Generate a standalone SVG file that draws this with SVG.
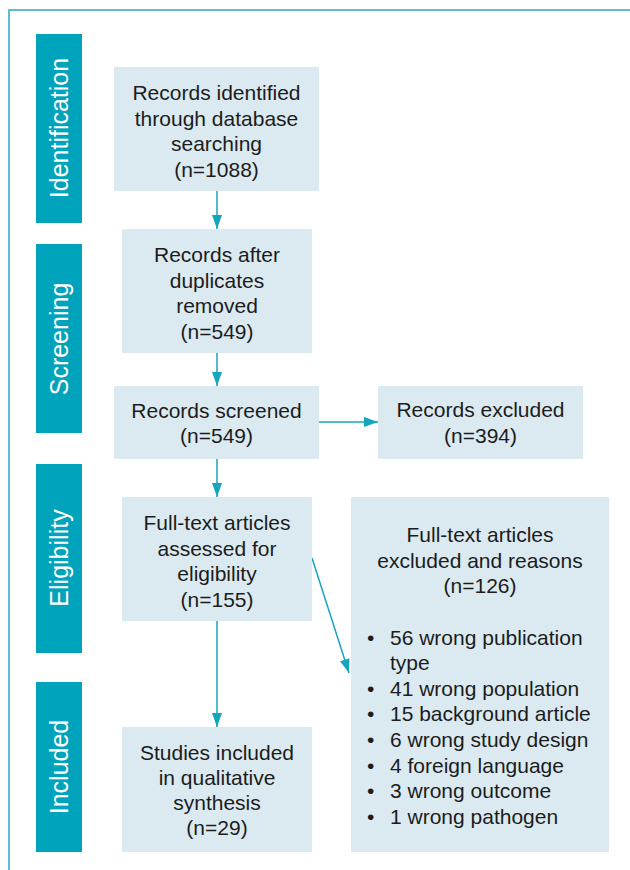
<svg xmlns="http://www.w3.org/2000/svg" width="630" height="870" viewBox="0 0 630 870">
<defs>
<style>
.frame{fill:none;stroke:#2aa8bf;stroke-width:1.5}
.phase{fill:#00a3bc}
.ptxt{fill:#ffffff;font-family:"Liberation Sans",Arial,sans-serif;font-size:25px;text-anchor:middle}
.box{fill:#dbeaf1}
.t{fill:#1c1c1c;font-family:"Liberation Sans",Arial,sans-serif;font-size:21px;text-anchor:middle}
.tl{fill:#1c1c1c;font-family:"Liberation Sans",Arial,sans-serif;font-size:21px}
.con{stroke:#14a6bd;stroke-width:1.5;fill:none}
</style>
<marker id="ah" viewBox="0 0 14 10" refX="14" refY="5" markerWidth="14" markerHeight="10" markerUnits="userSpaceOnUse" orient="auto">
<path d="M0,0 L14,5 L0,10 Z" fill="#14a6bd"/>
</marker>
</defs>
<rect width="630" height="870" fill="#ffffff"/>
<path class="frame" d="M9,870 V10 H630"/>

<g id="phase-identification"><rect class="phase" x="36" y="34" width="46" height="189"/><text class="ptxt" transform="translate(68,128) rotate(-90)">Identification</text></g>
<g id="phase-screening"><rect class="phase" x="36" y="244" width="46" height="189"/><text class="ptxt" transform="translate(68,339) rotate(-90)">Screening</text></g>
<g id="phase-eligibility"><rect class="phase" x="36" y="464" width="46" height="189"/><text class="ptxt" transform="translate(68,558) rotate(-90)">Eligibility</text></g>
<g id="phase-included"><rect class="phase" x="36" y="682" width="46" height="170"/><text class="ptxt" transform="translate(68,767) rotate(-90)">Included</text></g>

<g id="connectors">
<line class="con" x1="217" y1="191" x2="217" y2="229" marker-end="url(#ah)"/>
<line class="con" x1="217" y1="353" x2="217" y2="386" marker-end="url(#ah)"/>
<line class="con" x1="217" y1="459" x2="217" y2="497" marker-end="url(#ah)"/>
<line class="con" x1="217" y1="621" x2="217" y2="727" marker-end="url(#ah)"/>
<line class="con" x1="319" y1="422" x2="378" y2="422" marker-end="url(#ah)"/>
<line class="con" x1="312" y1="558" x2="349" y2="673" marker-end="url(#ah)"/>
</g>

<g id="n-identified"><rect class="box" x="114" y="67" width="205" height="124"/>
<text class="t" x="216.5" y="100">Records identified</text>
<text class="t" x="216.5" y="125.5">through database</text>
<text class="t" x="216.5" y="151">searching</text>
<text class="t" x="216.5" y="177">(n=1088)</text></g>

<g id="n-duplicates"><rect class="box" x="122" y="229" width="190" height="124"/>
<text class="t" x="217" y="262">Records after</text>
<text class="t" x="217" y="287.5">duplicates</text>
<text class="t" x="217" y="313">removed</text>
<text class="t" x="217" y="338.5">(n=549)</text></g>

<g id="n-screened"><rect class="box" x="114" y="386" width="205" height="73"/>
<text class="t" x="216.5" y="418">Records screened</text>
<text class="t" x="216.5" y="443">(n=549)</text></g>

<g id="n-excluded"><rect class="box" x="378" y="386" width="205" height="73"/>
<text class="t" x="480.5" y="417">Records excluded</text>
<text class="t" x="480.5" y="443">(n=394)</text></g>

<g id="n-fulltext"><rect class="box" x="122" y="497" width="190" height="124"/>
<text class="t" x="217" y="530">Full-text articles</text>
<text class="t" x="217" y="555.5">assessed for</text>
<text class="t" x="217" y="581">eligibility</text>
<text class="t" x="217" y="606.5">(n=155)</text></g>

<g id="n-ft-excluded"><rect class="box" x="351" y="497" width="258" height="355"/>
<text class="t" x="480" y="542">Full-text articles</text>
<text class="t" x="480" y="567.5">excluded and reasons</text>
<text class="t" x="480" y="593">(n=126)</text>
<text class="tl" x="367" y="645">•</text><text class="tl" x="390" y="645">56 wrong publication</text>
<text class="tl" x="390" y="670">type</text>
<text class="tl" x="367" y="696">•</text><text class="tl" x="390" y="696">41 wrong population</text>
<text class="tl" x="367" y="721">•</text><text class="tl" x="390" y="721">15 background article</text>
<text class="tl" x="367" y="747">•</text><text class="tl" x="390" y="747">6 wrong study design</text>
<text class="tl" x="367" y="773">•</text><text class="tl" x="390" y="773">4 foreign language</text>
<text class="tl" x="367" y="798">•</text><text class="tl" x="390" y="798">3 wrong outcome</text>
<text class="tl" x="367" y="824">•</text><text class="tl" x="390" y="824">1 wrong pathogen</text></g>

<g id="n-included"><rect class="box" x="122" y="727" width="190" height="125"/>
<text class="t" x="217" y="760">Studies included</text>
<text class="t" x="217" y="785">in qualitative</text>
<text class="t" x="217" y="810">synthesis</text>
<text class="t" x="217" y="835">(n=29)</text></g>
</svg>
